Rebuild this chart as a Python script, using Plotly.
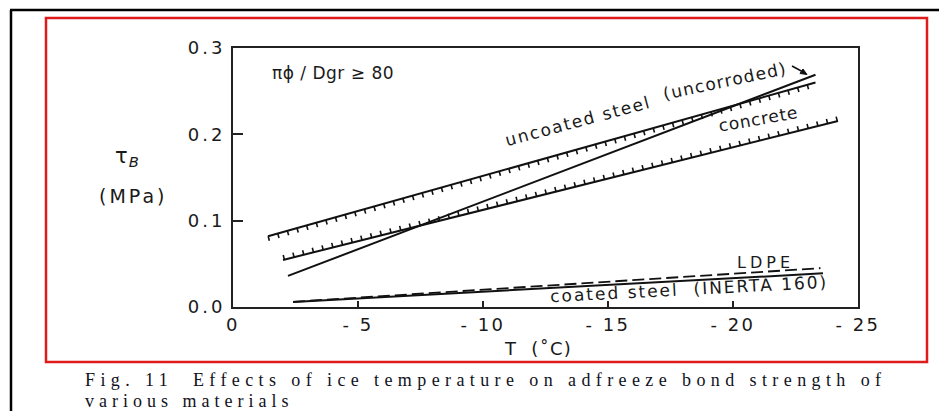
import plotly.graph_objects as go

# ---------------- data ----------------
T_uncoated = [-1.4, -23.3]
tau_uncoated = [0.082, 0.260]

T_uncorroded = [-2.2, -23.3]
tau_uncorroded = [0.036, 0.269]

T_concrete = [-2.0, -24.2]
tau_concrete = [0.0545, 0.2155]

T_ldpe = [-2.4, -23.5]
tau_ldpe = [0.006, 0.045]

T_coated = [-2.4, -23.6]
tau_coated = [0.0058, 0.039]

x_tickvals = [0, -5, -10, -15, -20, -25]
x_ticklabels = ["0", "- 5", "- 10", "- 15", "- 20", "- 25"]
y_tickvals = [0.0, 0.1, 0.2, 0.3]
y_ticklabels = ["0.0", "0.1", "0.2", "0.3"]

# ---------------- styling helpers ----------------
OFF = 8                      # page body margin of the browser
W, H = 947 - OFF, 411 - OFF
ML, MR, MT, MB = 233 - OFF, 89, 48 - OFF, 104
PW, PH = W - ML - MR, H - MT - MB
HATCH = 0.0029  # vertical offset (data units) of the hatch strip
INK = "#111111"
SANS = "DejaVu Sans, Liberation Sans, Arial, sans-serif"
SERIF = "Liberation Serif, Times New Roman, serif"


def X(px):
    return (px - OFF - ML) / PW


def Y(py):
    return (MT + PH - (py - OFF)) / PH


def ls(s, sp):
    return f'<span style="letter-spacing:{sp}px">{s}</span>'


fig = go.Figure()

line = dict(color=INK, width=2)
hatch = dict(color=INK, width=4.5, dash="1.6px,8.4px")

# uncoated steel (hatched, ticks hanging below)
fig.add_trace(go.Scatter(x=T_uncoated, y=tau_uncoated, mode="lines", line=line,
                         name="uncoated steel", showlegend=False))
fig.add_trace(go.Scatter(x=T_uncoated, y=[v - HATCH for v in tau_uncoated], mode="lines",
                         line=hatch, showlegend=False, hoverinfo="skip"))
# uncoated steel (uncorroded)
fig.add_trace(go.Scatter(x=T_uncorroded, y=tau_uncorroded, mode="lines", line=line,
                         name="uncoated steel (uncorroded)", showlegend=False))
# concrete (hatched, ticks pointing up)
fig.add_trace(go.Scatter(x=T_concrete, y=tau_concrete, mode="lines", line=line,
                         name="concrete", showlegend=False))
fig.add_trace(go.Scatter(x=T_concrete, y=[v + HATCH for v in tau_concrete], mode="lines",
                         line=hatch, showlegend=False, hoverinfo="skip"))
# LDPE dashed
fig.add_trace(go.Scatter(x=T_ldpe, y=tau_ldpe, mode="lines",
                         line=dict(color=INK, width=1.8, dash="12px,5px"),
                         name="LDPE", showlegend=False))
# coated steel
fig.add_trace(go.Scatter(x=T_coated, y=tau_coated, mode="lines", line=line,
                         name="coated steel (INERTA 160)", showlegend=False))

tickfont = dict(family=SANS, size=18, color="#1a1a1a")

fig.update_xaxes(range=[0, -25], tickvals=x_tickvals,
                 ticktext=[ls(t, 2.5) for t in x_ticklabels],
                 ticks="inside", ticklen=6, tickwidth=1.5, tickcolor="#222",
                 showline=True, linecolor="#222", linewidth=2, mirror=True,
                 showgrid=False, zeroline=False, tickfont=tickfont,
                 ticklabelstandoff=0)
fig.update_yaxes(range=[0, 0.3], tickvals=y_tickvals,
                 ticktext=[ls(t, 3) for t in y_ticklabels],
                 ticks="inside", ticklen=10, tickwidth=1.5, tickcolor="#222",
                 showline=True, linecolor="#222", linewidth=2, mirror=True,
                 showgrid=False, zeroline=False, tickfont=tickfont,
                 ticklabelstandoff=2)

ann = []


def text(px, py, s, size=17, sp=2.5, angle=0, xanchor="center", family=SANS, color="#1a1a1a"):
    ann.append(dict(x=X(px), y=Y(py), xref="paper", yref="paper", text=ls(s, sp),
                    showarrow=False, xanchor=xanchor, yanchor="middle", textangle=angle,
                    font=dict(family=family, size=size, color=color)))


text(270, 73, "πϕ / Dgr ≥ 80", size=17, sp=0.5, xanchor="left")
text(127, 157, "τ<sub><i>B</i></sub>", size=21, sp=1)
text(133, 196, "(MPa)", size=19, sp=3)
text(538, 348, "T  (˚C)", size=18, sp=1.3)
text(578, 121, "uncoated steel", size=17, sp=1.7, angle=-15)
text(725, 81, "(uncorroded)", size=17, sp=1.3, angle=-12)
text(758, 119, "concrete", size=17, sp=0.8, angle=-10)
text(765, 262, "LDPE", size=16, sp=4)
text(689, 289, "coated steel  (INERTA 160)", size=17, sp=2, angle=-3)

# caption
text(83, 380, "Fig. 11  Effects of ice temperature on adfreeze bond strength of",
     size=18, sp=5.4, xanchor="left", family=SERIF, color="#111122")
text(83, 401, "various materials", size=18, sp=5.0, xanchor="left", family=SERIF, color="#111122")

shapes = [
    # black frame (top and left)
    dict(type="line", xref="paper", yref="paper", x0=X(10), x1=X(947), y0=Y(10), y1=Y(10),
         line=dict(color="black", width=2.5)),
    dict(type="line", xref="paper", yref="paper", x0=X(11), x1=X(11), y0=Y(10), y1=Y(411),
         line=dict(color="black", width=2.5)),
    # red frame
    dict(type="rect", xref="paper", yref="paper", x0=X(46), x1=X(927), y0=Y(362), y1=Y(18),
         line=dict(color="#e01b1b", width=2.5)),
    # small arrow pointing at the uncorroded line
    dict(type="line", xref="paper", yref="paper", x0=X(792), x1=X(805), y0=Y(66), y1=Y(73),
         line=dict(color=INK, width=1.5)),
    dict(type="path", xref="paper", yref="paper",
         path=f"M {X(807)},{Y(74.5)} L {X(800)},{Y(73.5)} L {X(803)},{Y(69)} Z",
         fillcolor=INK, line=dict(color=INK, width=1)),
]

fig.update_layout(width=W, height=H, margin=dict(l=ML, r=MR, t=MT, b=MB),
                  paper_bgcolor="white", plot_bgcolor="white",
                  annotations=ann, shapes=shapes, showlegend=False)

fig.write_html("out.html")
